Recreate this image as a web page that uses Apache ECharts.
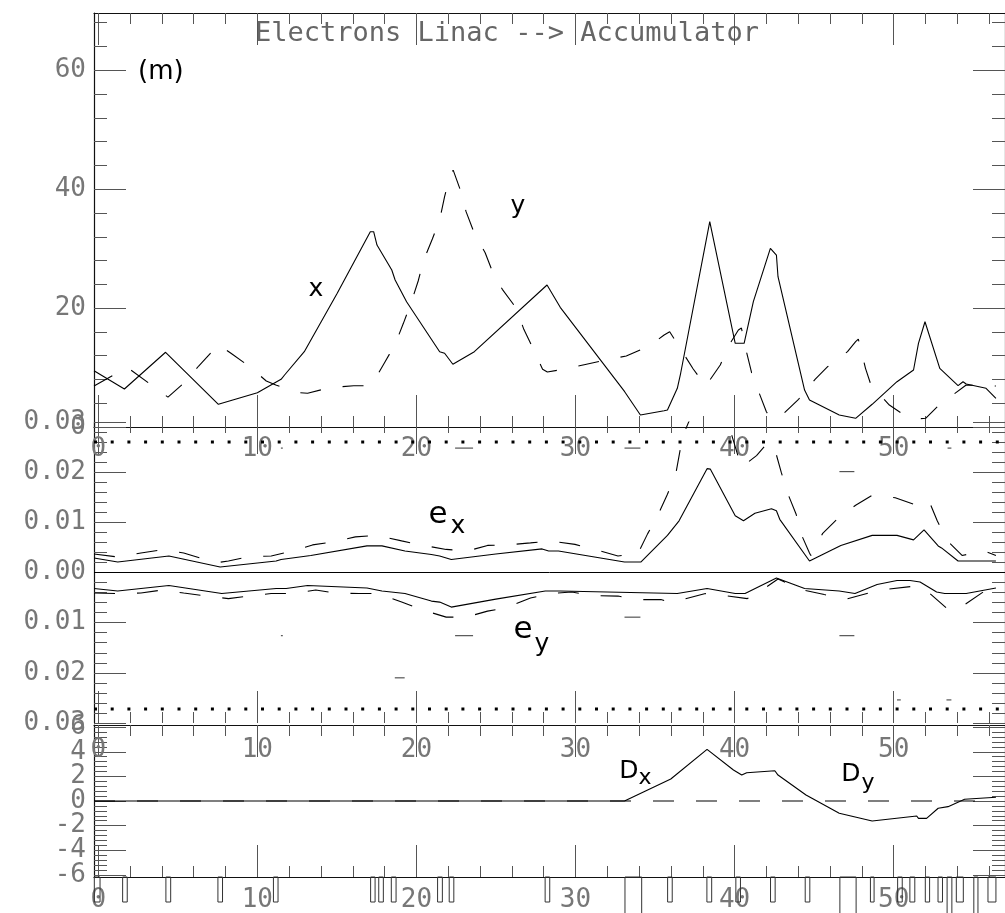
<!DOCTYPE html>
<html><head><meta charset="utf-8">
<script src="https://cdn.jsdelivr.net/npm/echarts@6/dist/echarts.min.js"></script>
<style>html,body{margin:0;padding:0;background:#fff}#c{width:1005px;height:913px}</style>
</head><body><div id="c"></div>
<script>
// ---------------- DATA ----------------
const S_MIN = -0.27, S_MAX = 57.0;
const sLabels = [0, 10, 20, 30, 40, 50];
const betaLabels = [0, 20, 40, 60];
const envLabels = [-0.03, -0.02, -0.01, 0, 0.01, 0.02, 0.03];
const dispLabels = [-6, -4, -2, 0, 2, 4, 6];
const titleText = 'Electrons Linac --> Accumulator';

// beta functions (m) : [s, beta]
const betaX = [[-0.27,9.47],[1.64,6.39],[4.23,12.57],[7.55,3.82],[10.0,5.77],[11.49,8.02],[11.71,8.75],[12.95,12.67],[15.02,22.49],[17.10,32.85],[17.31,32.85],[17.52,30.61],[18.45,26.41],[18.66,24.73],[19.38,21.08],[21.46,12.67],[21.77,12.40],[22.29,10.55],[23.64,12.67],[28.21,23.89],[28.31,23.89],[29.04,20.13],[33.09,5.94],[34.08,2.02],[35.57,2.74],[35.78,2.86],[36.40,6.51],[36.61,9.04],[38.44,34.53],[40.04,14.08],[40.60,14.08],[41.18,21.08],[42.25,30.06],[42.63,28.93],[42.73,25.28],[44.40,6.22],[44.71,4.54],[46.58,2.02],[47.61,1.46],[48.65,3.82],[50.21,7.62],[51.25,9.59],[51.56,14.08],[51.97,17.71],[52.07,17.71],[52.90,9.87],[54.05,6.95],[54.36,7.62],[54.56,7.23],[55.81,6.51],[56.43,4.83]];
const betaY = [[-0.27,6.90],[1.82,10.04],[4.38,5.03],[5.37,7.35],[6.31,10.26],[7.14,12.67],[7.55,13.88],[8.34,12.40],[9.46,10.26],[10.56,7.74],[11.16,7.06],[11.81,6.51],[12.53,5.80],[13.16,5.67],[14.51,6.61],[16.06,6.95],[16.89,6.95],[17.31,7.62],[18.03,10.98],[18.66,13.91],[19.18,17.44],[19.63,20.64],[20.11,24.56],[20.46,28.09],[21.00,31.62],[21.46,34.82],[21.77,38.74],[22.12,42.39],[22.31,43.2],[22.76,39.87],[23.12,36.22],[23.64,32.58],[24.32,29.32],[24.78,26.12],[25.40,23.16],[26.28,19.97],[26.75,16.43],[27.43,12.67],[27.93,9.71],[28.23,9.25],[29.24,9.71],[30.76,10.60],[32.15,11.39],[33.19,11.94],[34.64,13.62],[35.57,15.48],[35.92,16.03],[36.71,12.67],[37.40,9.76],[38.19,6.90],[39.10,10.43],[39.62,13.62],[40.24,16.32],[40.43,16.65],[40.76,12.50],[41.07,9.13],[41.55,5.67],[42.00,2.57],[42.30,1.35],[43.04,2.14],[44.02,4.66],[45.06,8.02],[45.85,10.14],[47.10,12.67],[47.61,14.35],[47.78,14.80],[48.23,9.87],[48.59,6.95],[49.73,3.70],[50.72,1.90],[51.26,1.35],[52.01,1.46],[53.01,4.09],[53.63,5.21],[54.56,7.06],[56.43,6.90]];

// envelopes (m) : [s, e]
const envXSolid = [[-0.27,0.0029],[1.22,0.0021],[4.44,0.0033],[7.66,0.0011],[11.18,0.0023],[11.49,0.0026],[13.36,0.0034],[16.89,0.0053],[17.83,0.0053],[19.28,0.0043],[20.94,0.0036],[21.46,0.0033],[22.19,0.0026],[24.99,0.0037],[27.90,0.0047],[28.31,0.0043],[28.93,0.0043],[33.08,0.0021],[34.12,0.0021],[35.78,0.0074],[36.51,0.0103],[38.27,0.0207],[38.48,0.0206],[40.04,0.0113],[40.56,0.0103],[41.28,0.0118],[42.32,0.0127],[42.63,0.0123],[42.84,0.0106],[44.71,0.0023],[46.68,0.0054],[48.65,0.0074],[50.21,0.0074],[51.25,0.0065],[51.91,0.0085],[52.80,0.0053],[53.01,0.0049],[54.05,0.0023],[56.43,0.0023]];
const envXDashed = [[-0.27,0.0037],[1.22,0.0031],[2.68,0.0039],[3.99,0.0045],[5.37,0.0039],[6.62,0.0027],[7.55,0.0020],[8.18,0.0023],[9.42,0.0031],[10.87,0.0033],[12.22,0.0043],[13.47,0.0055],[14.82,0.0061],[16.16,0.0071],[17.52,0.0074],[19.07,0.0063],[20.42,0.0054],[21.87,0.0046],[23.23,0.0043],[24.47,0.0054],[25.72,0.0055],[27.17,0.0059],[28.41,0.0063],[29.97,0.0056],[31.22,0.0046],[32.67,0.0033],[33.91,0.0037],[34.53,0.0077],[35.20,0.0116],[35.78,0.0156],[36.30,0.0196],[36.57,0.0243],[36.89,0.0283],[38.44,0.040],[39.51,0.0296],[39.83,0.0273],[40.43,0.0210],[41.38,0.0233],[42.11,0.0260],[42.59,0.0239],[42.94,0.0199],[43.36,0.0156],[43.87,0.0116],[44.29,0.0069],[44.71,0.0039],[44.79,0.0034],[45.54,0.0078],[46.47,0.0107],[47.61,0.0134],[48.65,0.0154],[50.10,0.0149],[51.45,0.0134],[52.22,0.0143],[52.74,0.0103],[53.38,0.0063],[54.30,0.0034],[55.70,0.0043],[56.43,0.0034]];
const envYSolid = [[-0.27,-0.0032],[1.22,-0.0037],[4.44,-0.0026],[7.76,-0.0042],[11.18,-0.0032],[11.81,-0.0032],[13.16,-0.0026],[16.89,-0.0031],[17.83,-0.0037],[19.28,-0.0042],[20.94,-0.0057],[21.46,-0.0059],[22.19,-0.0069],[24.99,-0.0053],[28.10,-0.0037],[29.04,-0.0037],[36.40,-0.0042],[38.27,-0.0032],[40.04,-0.0042],[40.66,-0.0042],[42.63,-0.0011],[44.40,-0.0032],[46.58,-0.0037],[47.57,-0.0042],[48.96,-0.0024],[50.21,-0.0016],[51.03,-0.0016],[51.66,-0.0019],[52.70,-0.0039],[53.21,-0.0042],[54.56,-0.0042],[56.43,-0.0031]];
const envYDashed = [[-0.27,-0.0041],[1.22,-0.0042],[2.68,-0.0041],[3.99,-0.0035],[5.37,-0.0041],[6.62,-0.0046],[8.18,-0.0052],[9.42,-0.0047],[10.87,-0.0042],[12.22,-0.0042],[13.67,-0.0035],[14.92,-0.0041],[16.38,-0.0042],[17.62,-0.0042],[19.07,-0.0059],[20.42,-0.0075],[21.87,-0.0089],[23.12,-0.0089],[24.47,-0.0077],[24.99,-0.0074],[25.72,-0.0069],[27.17,-0.0051],[28.41,-0.0042],[29.76,-0.0039],[31.01,-0.0046],[32.67,-0.0047],[33.91,-0.0054],[35.37,-0.0054],[35.88,-0.0059],[36.71,-0.0054],[38.17,-0.0042],[39.41,-0.0046],[40.80,-0.0052],[41.76,-0.0034],[42.73,-0.0013],[44.18,-0.0034],[45.64,-0.0044],[47.03,-0.0053],[48.44,-0.0041],[49.69,-0.0033],[51.34,-0.0027],[52.18,-0.0039],[53.32,-0.0071],[53.82,-0.0076],[54.46,-0.0064],[55.81,-0.0035],[56.43,-0.0033]];
const apertureTop = 0.026, apertureBottom = -0.0272;
// short aperture bars : [sStart, sEnd, e]
const apertureBars = [[11.48,11.60,0.0248],[11.48,11.60,-0.0126],[18.64,19.26,-0.021],[22.43,23.56,0.0248],[22.43,23.56,-0.0126],[33.08,34.08,0.0248],[33.08,34.08,-0.0089],[46.59,47.53,0.0201],[46.59,47.53,-0.0126],[53.39,53.63,0.0248],[50.21,50.45,-0.0254],[53.32,53.63,-0.0254]];

// dispersion (m) : [s, D]
const dispX = [[-0.27,0],[33.08,0],[35.99,1.79],[38.27,4.20],[38.38,4.20],[39.93,2.52],[40.45,2.11],[40.76,2.30],[42.53,2.46],[42.73,2.11],[44.49,0.49],[46.58,-1.0],[48.65,-1.63],[51.03,-1.28],[51.45,-1.22],[51.56,-1.41],[52.07,-1.41],[52.80,-0.59],[53.42,-0.46],[54.46,0.14],[56.43,0.30]];
const dispY = [[-0.27,0],[56.43,0]];

// lattice elements : [sStart, sEnd, kind]  kind 0 = quadrupole, 1 = bend
const elements = [[-0.25,0.11,0],[1.53,1.82,0],[4.25,4.55,0],[7.52,7.81,0],[11.01,11.30,0],[17.12,17.40,0],[17.63,17.92,0],[18.42,18.72,0],[21.33,21.63,0],[22.06,22.35,0],[28.09,28.38,0],[33.11,34.16,1],[35.79,36.08,0],[38.26,38.56,0],[40.08,40.37,0],[42.26,42.55,0],[44.44,44.73,0],[46.62,47.64,1],[48.54,48.77,0],[50.25,50.54,0],[51.02,51.33,0],[51.99,52.26,0],[52.79,53.07,0],[53.36,53.66,1],[53.94,54.38,0],[55.04,55.30,1],[55.93,56.43,0]];

// ---------------- LAYOUT / STYLE ----------------
const MONO = '"DejaVu Sans Mono", monospace';
const SANS = '"DejaVu Sans", sans-serif';
const LBL = '#777', TICK = '#555', LINE = '#111';
function range(a, b, step, skip) {
  const out = [];
  for (let k = 0; ; k++) {
    const v = Math.round((a + k * step) * 10000) / 10000;
    if (v > b + 1e-9) break;
    if (!skip || !skip(v)) out.push(v);
  }
  return out;
}
const sMinor = range(0, 56, 2, v => v % 10 === 0);
const panels = [
  { top: 13, height: 414, min: 0, max: 69.64, major: betaLabels, minor: range(0, 68, 4, v => v % 20 === 0),
    fmt: v => String(v), xMargin: 9, showTopLine: true, showBottomLine: true },
  { top: 422, height: 301, min: -0.03, max: 0.03, major: envLabels, minor: range(-0.03, 0.03, 0.002, v => Math.abs(Math.round(v * 1000)) % 10 === 0),
    fmt: v => Math.abs(v).toFixed(2), xMargin: 14, showTopLine: false, showBottomLine: false },
  { top: 725, height: 152, min: -6.18, max: 6.18, major: dispLabels, minor: range(-6, 6, 0.4, v => Math.abs(Math.round(v * 10)) % 20 === 0),
    fmt: v => String(v), xMargin: 10, showTopLine: true, showBottomLine: true }
];
const Y_PER = 6; // y axes per panel

const grids = [], xAxes = [], yAxes = [];
panels.forEach((p, i) => {
  grids.push({ left: 94, top: p.top, width: 920, height: p.height, containLabel: false });
  const mk = (pos, showLine, ticks, len, labels, extra) => Object.assign({
    type: 'value', gridIndex: i, position: pos,
    axisLine: { show: showLine, onZero: false, lineStyle: { color: LINE, width: 1.2 } },
    axisTick: ticks ? { show: true, inside: true, length: len, customValues: ticks, lineStyle: { color: TICK, width: 1 } } : { show: false },
    axisLabel: labels ? labels : { show: false },
    splitLine: { show: false }, minorTick: { show: false }
  }, extra || {});
  const lab = (vals, margin, fmt) => ({ show: true, customValues: vals, margin: margin, color: LBL, fontFamily: MONO,
    fontSize: 26, formatter: fmt, showMinLabel: true, showMaxLabel: true, hideOverlap: false });
  const xr = { min: S_MIN, max: S_MAX };
  xAxes.push(mk('bottom', p.showBottomLine, sLabels, 32, lab(sLabels, p.xMargin, v => String(v)), xr));
  xAxes.push(mk('bottom', false, sMinor, 11, null, xr));
  xAxes.push(mk('top', p.showTopLine, sLabels, 32, null, xr));
  xAxes.push(mk('top', false, sMinor, 11, null, xr));
  const yr = { min: p.min, max: p.max };
  yAxes.push(mk('left', true, p.major, 32, null, yr));
  yAxes.push(mk('left', false, p.minor, 13, null, yr));
  yAxes.push(mk('right', true, p.major, 32, null, yr));
  yAxes.push(mk('right', false, p.minor, 13, null, yr));
  // labels split over two overlapping axes so that neighbouring labels never get hidden
  const evenL = p.major.filter((v, k) => k % 2 === 0), oddL = p.major.filter((v, k) => k % 2 === 1);
  yAxes.push(mk('left', false, null, 0, lab(evenL, 8, p.fmt), yr));
  yAxes.push(mk('left', false, null, 0, lab(oddL, 8, p.fmt), yr));
});

const DASH = [21, 22];
function lineSeries(data, panel, dashed, extra) {
  return Object.assign({
    type: 'line', data: data, xAxisIndex: panel * 4, yAxisIndex: panel * Y_PER,
    showSymbol: false, symbol: 'none', silent: true, animation: false,
    lineStyle: { color: '#000', width: 1.1, type: dashed ? DASH : 'solid' }
  }, extra || {});
}

const series = [
  lineSeries(betaX, 0, false),
  lineSeries(betaY, 0, true),
  lineSeries(envXSolid, 1, false, {
    markLine: { silent: true, symbol: 'none', label: { show: false },
      lineStyle: { color: '#000', width: 1, type: 'solid' }, data: [{ yAxis: 0 }], animation: false }
  }),
  lineSeries(envXDashed, 1, true),
  lineSeries(envYSolid, 1, false),
  lineSeries(envYDashed, 1, true),
  lineSeries([[S_MIN, apertureTop], [S_MAX, apertureTop]], 1, false, { lineStyle: { color: '#000', width: 3, type: [3, 13.7], cap: 'butt' } }),
  lineSeries([[S_MIN, apertureBottom], [S_MAX, apertureBottom]], 1, false, { lineStyle: { color: '#000', width: 3, type: [3, 13.7], cap: 'butt' } }),
  {
    type: 'custom', xAxisIndex: 4, yAxisIndex: Y_PER, silent: true, animation: false, clip: false,
    data: apertureBars,
    renderItem: (params, api) => {
      const a = api.coord([api.value(0), api.value(2)]);
      const b = api.coord([api.value(1), api.value(2)]);
      return { type: 'line', shape: { x1: a[0], y1: a[1], x2: Math.max(b[0], a[0] + 1.5), y2: b[1] },
        style: { stroke: '#333', lineWidth: 1 } };
    }
  },
  lineSeries(dispX, 2, false),
  lineSeries(dispY, 2, true),
  {
    type: 'custom', xAxisIndex: 8, yAxisIndex: 2 * Y_PER, silent: true, animation: false, clip: false,
    data: elements,
    renderItem: (params, api) => {
      const a = api.coord([api.value(0), panels[2].min]);
      const b = api.coord([api.value(1), panels[2].min]);
      const h = api.value(2) === 1 ? 50 : 25;
      return { type: 'rect', shape: { x: a[0], y: a[1], width: b[0] - a[0], height: h },
        style: { fill: 'none', stroke: '#333', lineWidth: 1 } };
    }
  }
];

function txt(text, x, y, size, family, color, align) {
  return { type: 'text', x: x, y: y, silent: true,
    style: { text: text, fontSize: size, fontFamily: family, fill: color, align: align || 'center', verticalAlign: 'middle' } };
}
const graphic = [
  txt(titleText, 507, 34, 27, MONO, '#666'),
  txt('(m)', 138, 72, 26, SANS, '#000', 'left'),
  txt('x', 316, 289, 25, SANS, '#000'),
  txt('y', 518, 206, 25, SANS, '#000'),
  txt('e', 438, 515, 31, SANS, '#000'),
  txt('x', 458, 526, 25, SANS, '#000'),
  txt('e', 523, 630, 31, SANS, '#000'),
  txt('y', 542, 644, 25, SANS, '#000'),
  txt('D', 629, 771, 25, SANS, '#000'),
  txt('x', 645, 778, 22, SANS, '#000'),
  txt('D', 851, 774, 25, SANS, '#000'),
  txt('y', 868, 783, 22, SANS, '#000')
];

const chart = echarts.init(document.getElementById('c'), null, { renderer: 'canvas' });
chart.setOption({
  animation: false,
  backgroundColor: '#fff',
  grid: grids, xAxis: xAxes, yAxis: yAxes,
  series: series, graphic: graphic
});
</script></body></html>
